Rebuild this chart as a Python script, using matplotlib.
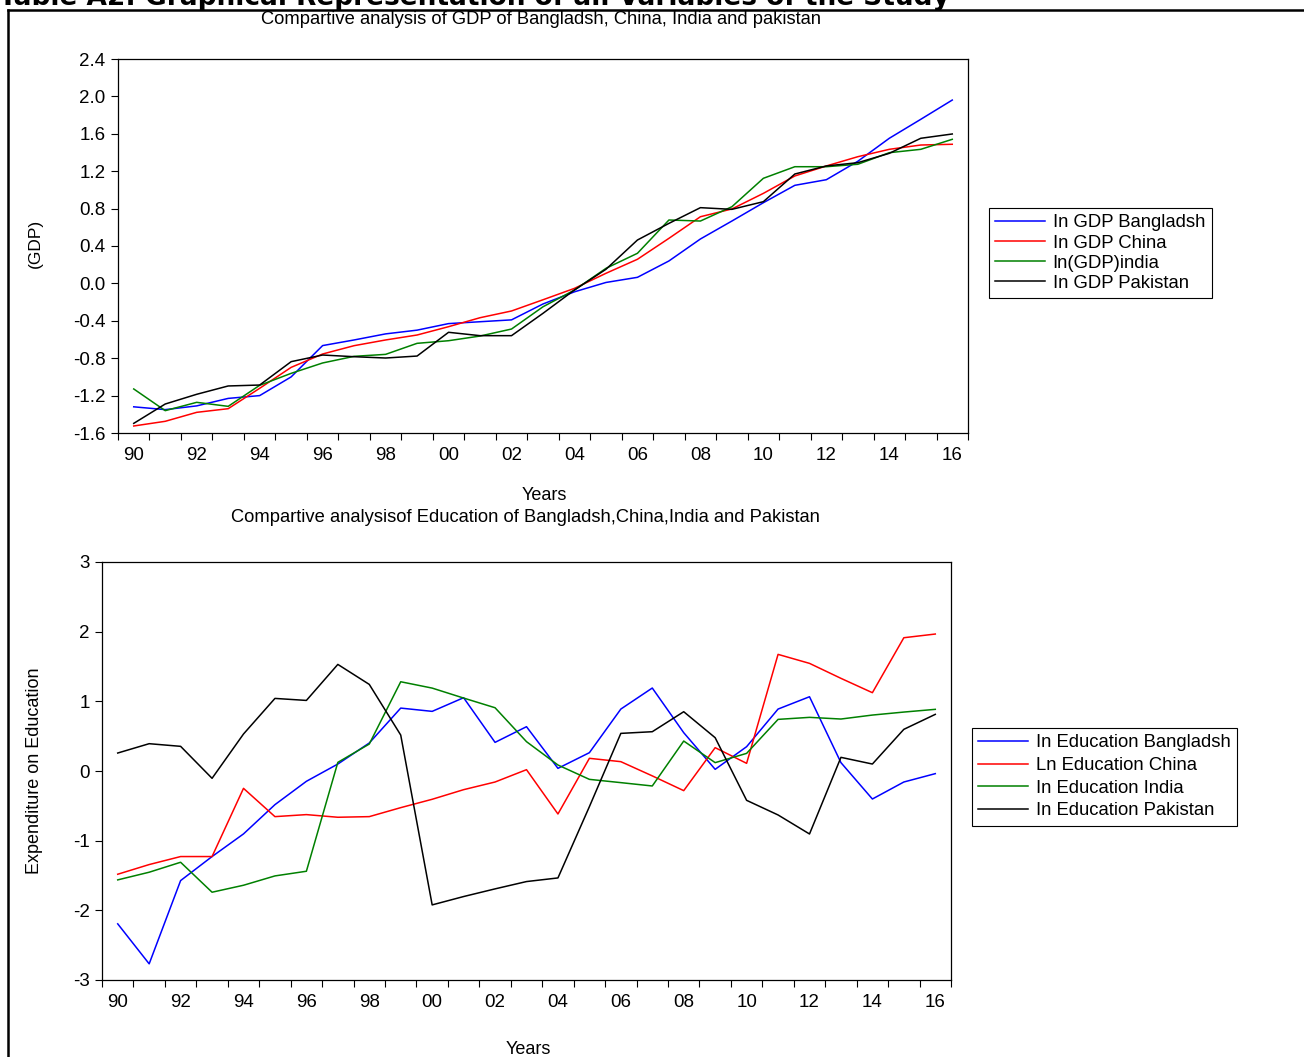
import matplotlib
matplotlib.use("Agg")
import matplotlib.pyplot as plt
import numpy as np
from matplotlib.lines import Line2D
from matplotlib.ticker import FixedLocator, FuncFormatter

plt.rcParams['font.family'] = ['Liberation Sans', 'DejaVu Sans']
plt.rcParams['axes.unicode_minus'] = False

W, H = 1304, 1057

years = list(range(1990, 2017))

gdp_bangladesh = [-1.32, -1.35, -1.31, -1.23, -1.20, -1.00, -0.665, -0.605, -0.54, -0.50,
                  -0.43, -0.41, -0.39, -0.22, -0.09, 0.01, 0.065, 0.24, 0.475, 0.667,
                  0.863, 1.049, 1.109, 1.306, 1.552, 1.755, 1.961]
gdp_china = [-1.525, -1.475, -1.379, -1.340, -1.122, -0.898, -0.755, -0.666, -0.605, -0.552,
             -0.463, -0.367, -0.295, -0.175, -0.053, 0.108, 0.258, 0.482, 0.713, 0.796,
             0.963, 1.149, 1.256, 1.355, 1.434, 1.480, 1.488]
gdp_india = [-1.129, -1.361, -1.272, -1.315, -1.090, -0.962, -0.851, -0.780, -0.759, -0.641,
             -0.613, -0.563, -0.488, -0.25, -0.071, 0.161, 0.322, 0.678, 0.667, 0.820,
             1.124, 1.248, 1.248, 1.274, 1.398, 1.434, 1.541]
gdp_pakistan = [-1.497, -1.290, -1.186, -1.097, -1.087, -0.837, -0.766, -0.784, -0.798, -0.777,
                -0.523, -0.559, -0.559, -0.32, -0.07, 0.151, 0.464, 0.642, 0.810, 0.792,
                0.874, 1.170, 1.256, 1.291, 1.391, 1.552, 1.598]

edu_bangladesh = [-2.194, -2.768, -1.573, -1.228, -0.903, -0.483, -0.148, 0.100, 0.402, 0.903,
                  0.856, 1.052, 0.411, 0.636, 0.038, 0.263, 0.889, 1.191, 0.550, 0.024,
                  0.349, 0.889, 1.066, 0.120, -0.402, -0.158, -0.038]
edu_china = [-1.482, -1.343, -1.228, -1.228, -0.249, -0.655, -0.626, -0.664, -0.655, -0.526,
             -0.406, -0.268, -0.158, 0.019, -0.617, 0.182, 0.134, -0.07, -0.282, 0.335,
             0.110, 1.674, 1.545, 1.330, 1.124, 1.913, 1.966]
edu_india = [-1.563, -1.453, -1.310, -1.740, -1.640, -1.506, -1.439, 0.124, 0.387, 1.281,
             1.190, 1.047, 0.908, 0.421, 0.086, -0.120, -0.167, -0.215, 0.430, 0.120,
             0.253, 0.741, 0.770, 0.746, 0.803, 0.846, 0.885]
edu_pakistan = [0.258, 0.392, 0.354, -0.105, 0.531, 1.042, 1.013, 1.530, 1.243, 0.516,
                -1.922, -1.802, -1.692, -1.587, -1.535, -0.512, 0.540, 0.564, 0.851, 0.478,
                -0.421, -0.631, -0.904, 0.196, 0.100, 0.598, 0.813]

gdp_labels = ['In GDP Bangladsh', 'In GDP China', 'In(GDP)india', 'In GDP Pakistan']
edu_labels = ['In Education Bangladsh', 'Ln Education China', 'In Education India',
              'In Education Pakistan']
colors = ['#0000ff', '#ff0000', '#008000', '#000000']


def px(x, y):
    # pixel position measured from the top-left corner -> figure fraction
    return x / W, 1 - y / H


def ax_rect(left, top, right, bottom):
    return [left / W, 1 - bottom / H, (right - left) / W, (bottom - top) / H]


def one_decimal(v, pos):
    s = '%.1f' % v
    return '0.0' if s == '-0.0' else s


def year_axis(ax):
    ax.set_xlim(years[0] - 0.5, years[-1] + 0.5)
    ax.xaxis.set_major_locator(FixedLocator(years[::2]))
    ax.xaxis.set_major_formatter(FuncFormatter(lambda v, p: '%02d' % (int(round(v)) % 100)))
    ax.xaxis.set_minor_locator(FixedLocator([y - 0.5 for y in years] + [years[-1] + 0.5]))
    ax.tick_params(axis='x', which='major', length=0, pad=10, labelsize=13.5)
    ax.tick_params(axis='x', which='minor', length=5, width=0.8, direction='out')
    ax.tick_params(axis='y', which='major', length=5, width=0.8, direction='out',
                   pad=4, labelsize=13.5)
    for s in ax.spines.values():
        s.set_linewidth(0.9)


def draw_panel(ax, series, labels):
    for vals, lab, c in zip(series, labels, colors):
        ax.plot(years, vals, color=c, lw=1.1, label=lab)
    year_axis(ax)


def add_legend(ax, x, y, size, spacing):
    leg = ax.legend(loc='upper left', bbox_to_anchor=(x / W, 1 - y / H),
                    bbox_transform=fig.transFigure, fontsize=size, frameon=True,
                    fancybox=False, edgecolor='black', framealpha=1, borderpad=0.35,
                    labelspacing=spacing, handlelength=2.7, handletextpad=0.4,
                    borderaxespad=0)
    leg.get_frame().set_linewidth(0.8)
    return leg


fig = plt.figure(figsize=(W / 100, H / 100), dpi=100)

# page frame and the clipped table caption above it
fig.add_artist(Line2D([8 / W, 8 / W], [0, 1 - 10 / H], color='black', lw=1.8))
fig.add_artist(Line2D([8 / W, 1], [1 - 10 / H, 1 - 10 / H], color='black', lw=1.8))
fig.text(*px(-1, 5), 'Table A2: Graphical Representation of all Variables of the Study',
         fontsize=19, fontweight='bold', family='DejaVu Sans', ha='left', va='baseline')

# GDP panel
ax1 = fig.add_axes(ax_rect(118, 59, 968, 433))
draw_panel(ax1, [gdp_bangladesh, gdp_china, gdp_india, gdp_pakistan], gdp_labels)
ax1.set_ylim(-1.6, 2.4)
ax1.set_yticks(np.round(np.arange(-1.6, 2.41, 0.4), 1))
ax1.yaxis.set_major_formatter(FuncFormatter(one_decimal))
add_legend(ax1, 989, 208, 13.3, 0.17)

fig.text(*px(541, 20), 'Compartive analysis of GDP of Bangladsh, China, India and pakistan',
         fontsize=13.2, ha='center', va='center')
fig.text(*px(35, 243), '(GDP)', fontsize=12.5, rotation=90, ha='center', va='center')
fig.text(*px(544, 496), 'Years', fontsize=13, ha='center', va='center')

# Education panel
ax2 = fig.add_axes(ax_rect(102, 562, 951, 980))
draw_panel(ax2, [edu_bangladesh, edu_china, edu_india, edu_pakistan], edu_labels)
ax2.set_ylim(-3, 3)
ax2.set_yticks(range(-3, 4))
add_legend(ax2, 972, 728, 13.3, 0.3)

fig.text(*px(525, 517), 'Compartive analysisof Education of Bangladsh,China,India and Pakistan',
         fontsize=13.2, ha='center', va='center')
fig.text(*px(35, 771), 'Expenditure on Education', fontsize=13, rotation=90,
         ha='center', va='center')
fig.text(*px(528, 1049), 'Years', fontsize=13, ha='center', va='center')

fig.savefig('out.png', dpi=100)
